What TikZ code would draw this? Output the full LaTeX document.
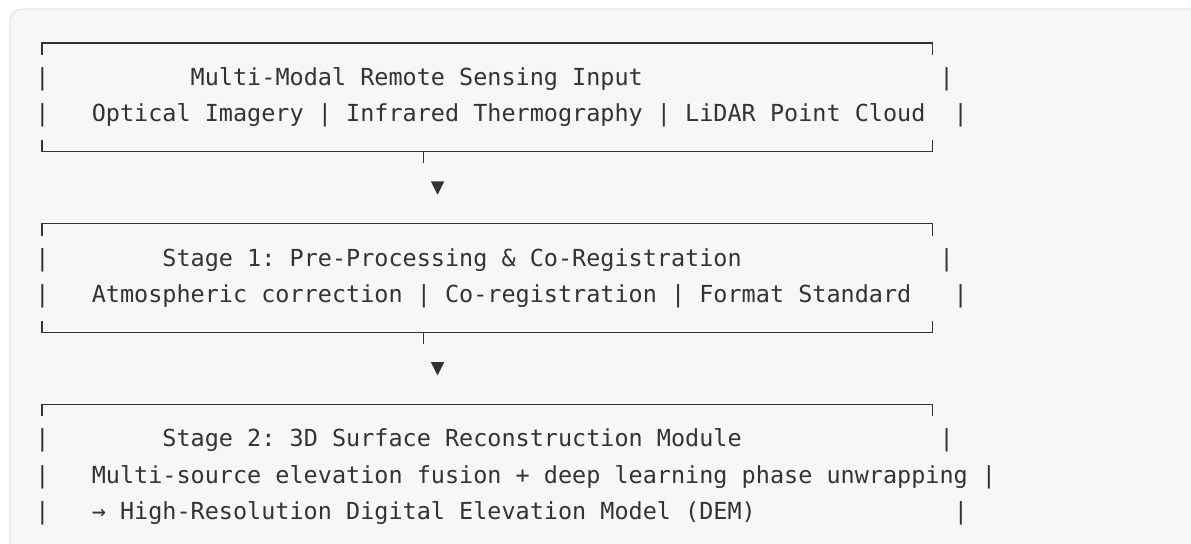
\documentclass[tikz,border=0pt]{standalone}
\usepackage{fontspec}
\usetikzlibrary{positioning}
\newfontfamily\codefont{DejaVu Sans Mono}
\definecolor{ink}{HTML}{333333}
\definecolor{paper}{HTML}{F7F7F7}
\definecolor{rim}{HTML}{E3E5E9}
\newcommand\pad[1]{\hspace*{#1\fontcharwd\font`0}}
\frenchspacing

\begin{document}
\begin{tikzpicture}[x=0.5pt,y=-0.5pt]
  \tikzstyle{row}=[anchor=west,inner sep=0pt,text height=8pt,text depth=1.7pt,font=\codefont\fontsize{11.735pt}{14pt}\selectfont,text=ink]
  \tikzstyle{frame}=[draw=ink,line width=0.65pt]
  \useasboundingbox (0,0) rectangle (1191,544);
  \begin{scope}
    \clip (0,0) rectangle (1191,544);
    \draw[fill=paper,draw=rim,line width=0.6pt,rounded corners=6] (10,9) rectangle (1220,580);
  \end{scope}

  \node[row] (inp1) at (34.9,79.15) {|\pad{10}Multi-Modal Remote Sensing Input\pad{21}|};
  \node[row] (inp2) at (34.9,115.3) {|\pad{3}Optical Imagery | Infrared Thermography | LiDAR Point Cloud\pad{2}|};
  \node[row] (pre1) at (34.9,259.9) {|\pad{8}Stage 1: Pre-Processing \& Co-Registration\pad{14}|};
  \node[row] (pre2) at (34.9,296.05) {|\pad{3}Atmospheric correction | Co-registration | Format Standard\pad{3}|};
  \node[row] (rec1) at (34.9,440.65) {|\pad{8}Stage 2: 3D Surface Reconstruction Module\pad{14}|};
  \node[row] (rec2) at (34.9,476.8) {|\pad{3}Multi-source elevation fusion + deep learning phase unwrapping |};
  \node[row] (rec3) at (34.9,512.95) {|\pad{3}→ High-Resolution Digital Elevation Model (DEM)\pad{14}|};

  \foreach \y in {43,223.75,404.5}
    \draw[frame] (42,\y+12) |- (932.2,\y) -- (932.2,\y+12);
  \foreach \y in {151.45,332.2}
    \draw[frame] (42,\y-11) |- (932.2,\y) -- (932.2,\y-11);

  \coordinate (inp-out) at (423.5,151.45);
  \coordinate (pre-in) at (437.6,187.6);
  \coordinate (pre-out) at (423.5,332.2);
  \coordinate (rec-in) at (437.6,368.35);
  \draw[frame] (inp-out) -- ++(0,12);
  \draw[frame] (pre-out) -- ++(0,12);
  \fill[ink] (pre-in) ++(-6.7,-6.2) -- ++(13.4,0) -- ++(-6.7,13.3) -- cycle;
  \fill[ink] (rec-in) ++(-6.7,-6.2) -- ++(13.4,0) -- ++(-6.7,13.3) -- cycle;
\end{tikzpicture}
\end{document}
